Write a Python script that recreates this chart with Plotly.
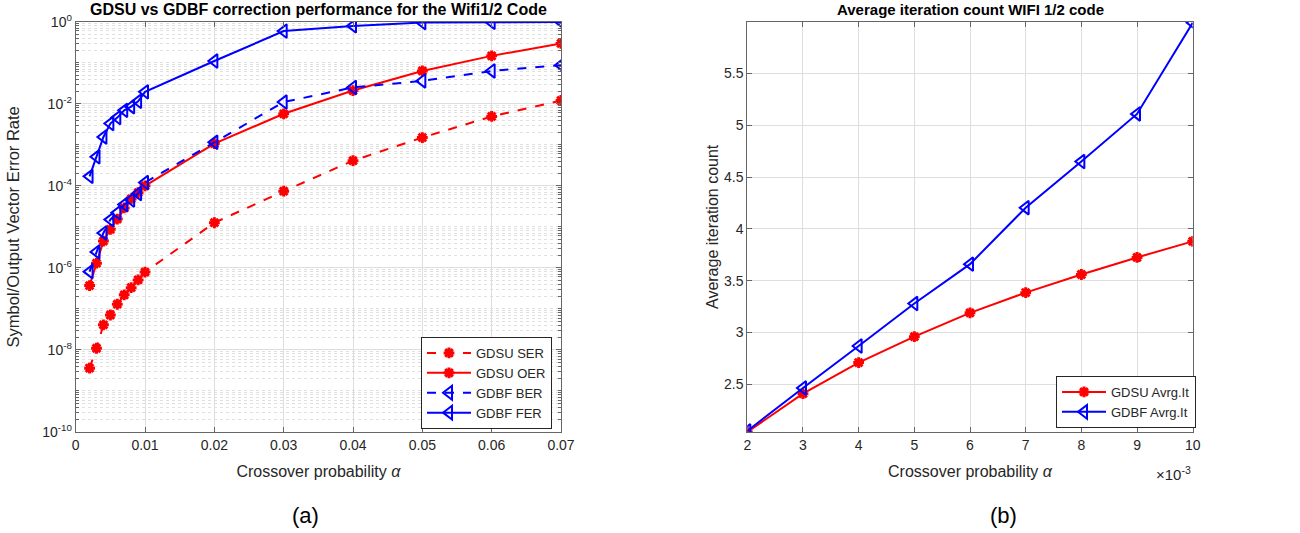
import plotly.graph_objects as go

# ---------------- data ----------------
alpha_a = [0.002, 0.003, 0.004, 0.005, 0.006, 0.007, 0.008, 0.009, 0.01,
           0.02, 0.03, 0.04, 0.05, 0.06, 0.07]
gdsu_ser = [3.6e-9, 1.1e-8, 4.1e-8, 7.1e-8, 1.3e-7, 2.2e-7, 3.3e-7, 5.1e-7, 7.9e-7,
            1.26e-5, 7.4e-5, 4.1e-4, 1.5e-3, 4.9e-3, 1.2e-2]
gdsu_oer = [3.7e-7, 1.3e-6, 4.5e-6, 8.7e-6, 1.55e-5, 2.9e-5, 4.8e-5, 6.8e-5, 1.0e-4,
            1.07e-3, 5.7e-3, 2.1e-2, 6.3e-2, 0.147, 0.295]
gdbf_ber = [8.1e-7, 2.45e-6, 7.1e-6, 1.5e-5, 2.2e-5, 3.5e-5, 4.5e-5, 6.5e-5, 1.2e-4,
            1.15e-3, 1.1e-2, 2.5e-2, 3.6e-2, 6.3e-2, 8.7e-2]
gdbf_fer = [1.7e-4, 5.1e-4, 1.55e-3, 3.3e-3, 4.6e-3, 6.9e-3, 8.5e-3, 1.15e-2, 1.95e-2,
            0.11, 0.59, 0.79, 0.95, 0.97, 0.99]

alpha_b = [0.002, 0.003, 0.004, 0.005, 0.006, 0.007, 0.008, 0.009, 0.010]
gdsu_it = [2.04, 2.41, 2.71, 2.96, 3.19, 3.385, 3.56, 3.725, 3.88]
gdbf_it = [2.05, 2.465, 2.87, 3.28, 3.66, 4.205, 4.65, 5.11, 5.99]

xticks_a = [0, 0.01, 0.02, 0.03, 0.04, 0.05, 0.06, 0.07]
xtick_text_a = ["0", "0.01", "0.02", "0.03", "0.04", "0.05", "0.06", "0.07"]
yticks_a = [1e-10, 1e-8, 1e-6, 1e-4, 1e-2, 1]
ytick_text_a = ["10<sup>-10</sup>", "10<sup>-8</sup>", "10<sup>-6</sup>",
                "10<sup>-4</sup>", "10<sup>-2</sup>", "10<sup>0</sup>"]
xticks_b = [0.002, 0.003, 0.004, 0.005, 0.006, 0.007, 0.008, 0.009, 0.010]
xtick_text_b = ["2", "3", "4", "5", "6", "7", "8", "9", "10"]
yticks_b = [2.5, 3, 3.5, 4, 4.5, 5, 5.5]
ytick_text_b = ["2.5", "3", "3.5", "4", "4.5", "5", "5.5"]

FONT = "Liberation Sans, Arial, sans-serif"
RED = "#ff0000"
BLUE = "#0000ff"
TICKC = "#262626"
AXC = "#666666"

W, H = 1300, 533


def px(x):
    return x / W


def py(y):
    return 1 - y / H


fig = go.Figure()

star = dict(symbol="asterisk-open", size=9, color=RED, line=dict(color=RED, width=3))
tri = dict(symbol="triangle-left-open", size=12, color=BLUE, line=dict(color=BLUE, width=2))

fig.add_trace(go.Scatter(x=alpha_a, y=gdsu_ser, name="GDSU SER", mode="lines+markers",
                         line=dict(color=RED, width=2, dash="dash"), marker=star,
                         xaxis="x", yaxis="y", legend="legend"))
fig.add_trace(go.Scatter(x=alpha_a, y=gdsu_oer, name="GDSU OER", mode="lines+markers",
                         line=dict(color=RED, width=2), marker=star,
                         xaxis="x", yaxis="y", legend="legend"))
fig.add_trace(go.Scatter(x=alpha_a, y=gdbf_ber, name="GDBF BER", mode="lines+markers",
                         line=dict(color=BLUE, width=2, dash="dash"), marker=tri,
                         xaxis="x", yaxis="y", legend="legend"))
fig.add_trace(go.Scatter(x=alpha_a, y=gdbf_fer, name="GDBF FER", mode="lines+markers",
                         line=dict(color=BLUE, width=2), marker=tri,
                         xaxis="x", yaxis="y", legend="legend"))

fig.add_trace(go.Scatter(x=alpha_b, y=gdsu_it, name="GDSU Avrg.It", mode="lines+markers",
                         line=dict(color=RED, width=2), marker=star,
                         xaxis="x2", yaxis="y2", legend="legend2"))
fig.add_trace(go.Scatter(x=alpha_b, y=gdbf_it, name="GDBF Avrg.It", mode="lines+markers",
                         line=dict(color=BLUE, width=2), marker=tri,
                         xaxis="x2", yaxis="y2", legend="legend2"))

axis_common = dict(showline=True, linecolor=AXC, linewidth=1, mirror="ticks",
                   ticks="inside", ticklen=5, tickcolor=AXC, showgrid=True,
                   gridcolor="#dedede", gridwidth=1, zeroline=False, automargin=False,
                   tickfont=dict(family=FONT, size=14, color=TICKC))

fig.update_layout(
    width=W, height=H,
    paper_bgcolor="white", plot_bgcolor="white",
    margin=dict(l=0, r=0, t=0, b=0),
    showlegend=True,
    font=dict(family=FONT, color=TICKC),
    xaxis=dict(domain=[px(75.7), px(561)], range=[0, 0.07], tickvals=xticks_a,
               ticktext=xtick_text_a, anchor="y",
               title=dict(text="Crossover probability <i>α</i>", standoff=14,
                          font=dict(family=FONT, size=16, color=TICKC)),
               **axis_common),
    yaxis=dict(domain=[py(432), py(21.7)], type="log", range=[-10, 0], tickvals=yticks_a,
               ticktext=ytick_text_a, anchor="x",
               minor=dict(showgrid=True, dtick="D1", gridcolor="#e0e0e0", griddash="dot",
                          ticks="inside", ticklen=3, tickcolor=AXC),
               title=dict(text="Symbol/Output Vector Error Rate", standoff=18,
                          font=dict(family=FONT, size=16.5, color=TICKC)),
               **axis_common),
    xaxis2=dict(domain=[px(747.3), px(1192.7)], range=[0.002, 0.010], tickvals=xticks_b,
                ticktext=xtick_text_b, anchor="y2",
                title=dict(text="Crossover probability <i>α</i>", standoff=14,
                           font=dict(family=FONT, size=16, color=TICKC)),
                **axis_common),
    yaxis2=dict(domain=[py(432), py(21.7)], range=[2.04, 6.0], tickvals=yticks_b,
                ticktext=ytick_text_b, anchor="x2",
                title=dict(text="Average iteration count", standoff=1,
                           font=dict(family=FONT, size=16, color=TICKC)),
                **axis_common),
    legend=dict(x=px(421), y=py(337), xanchor="left", yanchor="top",
                bgcolor="white", bordercolor="#262626", borderwidth=1,
                font=dict(family=FONT, size=13, color=TICKC),
                tracegroupgap=0, itemwidth=44),
    legend2=dict(x=px(1056), y=py(376), xanchor="left", yanchor="top",
                 bgcolor="white", bordercolor="#262626", borderwidth=1,
                 font=dict(family=FONT, size=13, color=TICKC),
                 tracegroupgap=0, itemwidth=44),
    annotations=[
        dict(text="<b>GDSU vs GDBF correction performance for the Wifi1/2 Code</b>",
             x=px(318), y=py(10), xref="paper", yref="paper", showarrow=False,
             xanchor="center", yanchor="middle", font=dict(family=FONT, size=16, color="black")),
        dict(text="<b>Average iteration count WIFI 1/2 code</b>",
             x=px(970), y=py(10), xref="paper", yref="paper", showarrow=False,
             xanchor="center", yanchor="middle", font=dict(family=FONT, size=15, color="black")),
        dict(text="×10<sup>-3</sup>", x=px(1193), y=py(473), xref="paper", yref="paper",
             showarrow=False, xanchor="right", yanchor="middle",
             font=dict(family=FONT, size=15, color=TICKC)),
        dict(text="(a)", x=px(305), y=py(515), xref="paper", yref="paper",
             showarrow=False, xanchor="center", yanchor="middle",
             font=dict(family=FONT, size=22, color="black")),
        dict(text="(b)", x=px(1003), y=py(515), xref="paper", yref="paper",
             showarrow=False, xanchor="center", yanchor="middle",
             font=dict(family=FONT, size=22, color="black")),
    ],
)

fig.write_html(
    "out.html",
    config={"displayModeBar": False},
    post_script="document.documentElement.style.margin='0';"
                "document.body.style.margin='0';"
                "document.body.style.overflow='hidden';",
)
